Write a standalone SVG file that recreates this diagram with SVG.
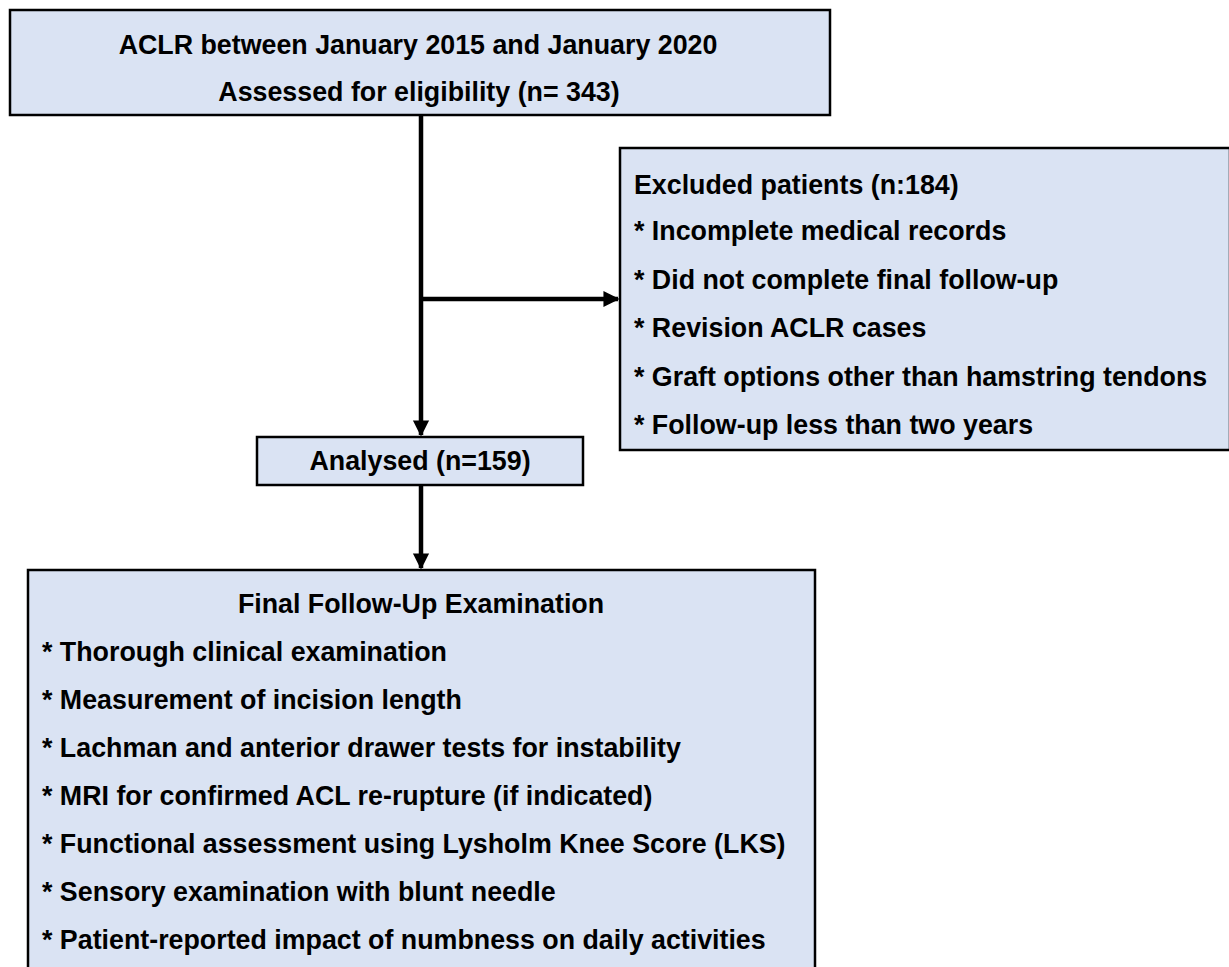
<svg xmlns="http://www.w3.org/2000/svg" width="1229" height="967" viewBox="0 0 1229 967">
<defs>
<style>
.box{fill:#DAE3F3;stroke:#000;stroke-width:2.5}
.t{font-family:"Liberation Sans",Arial,sans-serif;font-weight:bold;font-size:26.8px;fill:#000}
.c{text-anchor:middle}
.ln{stroke:#000;stroke-width:4.5;fill:none}
</style>
<marker id="ah" viewBox="0 0 10 10" refX="9" refY="5" markerWidth="3.6" markerHeight="4" orient="auto" markerUnits="strokeWidth">
<path d="M0,0 L10,5 L0,10 Z" fill="#000"/>
</marker>
</defs>
<rect width="1229" height="967" fill="#fff"/>
<g id="connectors">
<line class="ln" x1="421" y1="116" x2="421" y2="435" marker-end="url(#ah)"/>
<line class="ln" x1="421" y1="299" x2="618" y2="299" marker-end="url(#ah)"/>
<line class="ln" x1="421" y1="486" x2="421" y2="568" marker-end="url(#ah)"/>
</g>
<g id="top">
<rect class="box" x="10" y="10" width="820" height="105"/>
<text class="t c" x="418" y="54">ACLR between January 2015 and January 2020</text>
<text class="t c" x="419" y="101">Assessed for eligibility (n= 343)</text>
</g>
<g id="excluded">
<rect class="box" x="620" y="148" width="610" height="302"/>
<text class="t" x="634" y="194">Excluded patients (n:184)</text>
<text class="t" x="634" y="240">* Incomplete medical records</text>
<text class="t" x="634" y="289">* Did not complete final follow-up</text>
<text class="t" x="634" y="337">* Revision ACLR cases</text>
<text class="t" x="634" y="386">* Graft options other than hamstring tendons</text>
<text class="t" x="634" y="434">* Follow-up less than two years</text>
</g>
<g id="analysed">
<rect class="box" x="257" y="437" width="326" height="48"/>
<text class="t c" x="420" y="470">Analysed (n=159)</text>
</g>
<g id="final">
<rect class="box" x="28" y="570" width="787" height="410"/>
<text class="t c" x="421" y="613">Final Follow-Up Examination</text>
<text class="t" x="42" y="661">* Thorough clinical examination</text>
<text class="t" x="42" y="709">* Measurement of incision length</text>
<text class="t" x="42" y="757">* Lachman and anterior drawer tests for instability</text>
<text class="t" x="42" y="805">* MRI for confirmed ACL re-rupture (if indicated)</text>
<text class="t" x="42" y="853">* Functional assessment using Lysholm Knee Score (LKS)</text>
<text class="t" x="42" y="901">* Sensory examination with blunt needle</text>
<text class="t" x="42" y="949">* Patient-reported impact of numbness on daily activities</text>
</g>
</svg>
